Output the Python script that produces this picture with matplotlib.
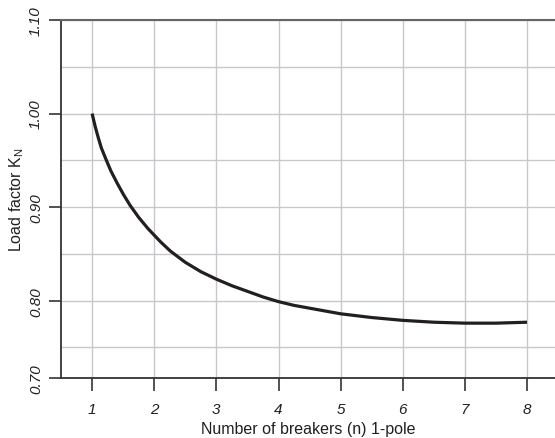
import matplotlib
matplotlib.use("Agg")
import matplotlib.pyplot as plt
import numpy as np

# Data
n_breakers = [1.0, 1.05, 1.1, 1.15, 1.23, 1.3, 1.4, 1.5, 1.61, 1.75, 1.9, 2.0,
              2.1, 2.26, 2.4, 2.5, 2.75, 3.0, 3.25, 3.5, 3.75, 4.0, 4.25, 4.5,
              5.0, 5.5, 6.0, 6.5, 7.0, 7.5, 8.0]
load_factor = [1.000, 0.986, 0.974, 0.963, 0.950, 0.939, 0.926, 0.914, 0.902,
               0.889, 0.877, 0.870, 0.863, 0.853, 0.846, 0.841, 0.831, 0.823,
               0.816, 0.810, 0.804, 0.799, 0.795, 0.792, 0.786, 0.782, 0.779,
               0.777, 0.776, 0.776, 0.777]
x_ticks = [1, 2, 3, 4, 5, 6, 7, 8]
x_tick_labels = ['1', '2', '3', '4', '5', '6', '7', '8']
y_tick_labels = ['0.70', '0.80', '0.90', '1.00', '1.10']

plt.rcParams['font.family'] = ['Liberation Sans', 'DejaVu Sans']
txt = '#231f20'

fig = plt.figure(figsize=(5.55, 4.39), dpi=100)
ax = fig.add_axes([0.110, 0.1367, 0.89, 0.9522 - 0.1367])

ylo = 0.7174
ax.set_xlim(0.5, 8.45)
ax.set_ylim(ylo, 1.10)

ax.plot(n_breakers, load_factor, color=txt, lw=2.3, solid_capstyle='butt',
        solid_joinstyle='round', zorder=3)

ax.set_xticks(x_ticks)
ax.set_xticklabels(x_tick_labels, fontstyle='italic', fontsize=11, color=txt)
ax.set_yticks([ylo, 0.8, 0.9, 1.0, 1.1])
ax.set_yticklabels(y_tick_labels, fontstyle='italic', fontsize=11, color=txt,
                   rotation=90, va='center')
ax.set_yticks([0.75, 0.85, 0.95, 1.05], minor=True)

ax.tick_params(axis='both', which='major', direction='out', length=9,
               width=1.2, color='#333333')
ax.tick_params(axis='x', which='major', pad=8)
ax.tick_params(axis='y', which='major', pad=4)
ax.tick_params(axis='both', which='minor', length=0)

ax.grid(True, which='both', color='#c8c8cc', lw=1.0, zorder=0)
ax.set_axisbelow(True)

for s in ['left', 'bottom']:
    ax.spines[s].set_color('#333333')
    ax.spines[s].set_linewidth(1.3)
ax.spines['top'].set_color('#666666')
ax.spines['top'].set_linewidth(1.5)
ax.spines['right'].set_visible(False)

ax.set_xlabel('Number of breakers (n) 1-pole', fontsize=11.5, color=txt,
              labelpad=4)
ax.set_ylabel('Load factor K$_\\mathregular{N}$', fontsize=11.5, color=txt,
              labelpad=2)

fig.savefig('out.png', dpi=100)
